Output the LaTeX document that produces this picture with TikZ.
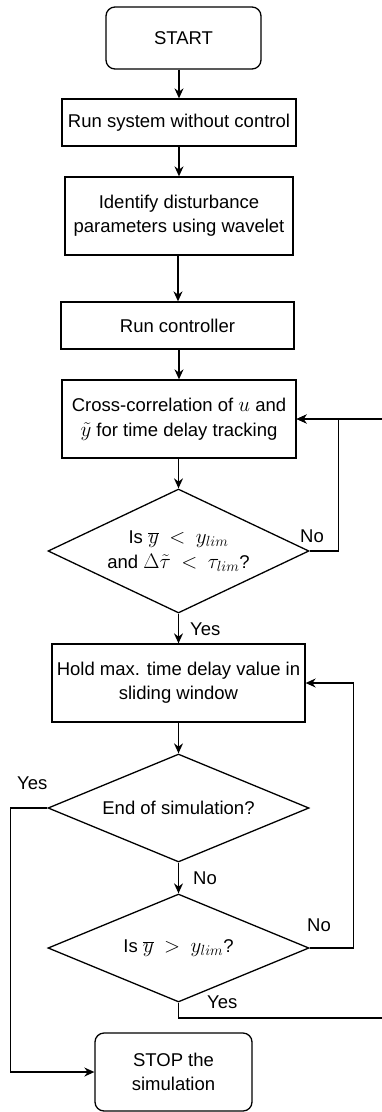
\RequirePackage{fix-cm}
\documentclass[tikz,border=0pt]{standalone}
\usepackage{fontspec}
\setmainfont{Liberation Sans}
\usetikzlibrary{arrows.meta,shapes.geometric}
\newcommand\mth[1]{{\fontsize{21}{24}\selectfont\thickmuskip=9mu\relax$#1$}}
\tikzset{
  x=1pt, y=-1pt,
  every node/.style={font=\fontsize{18.5}{24}\selectfont},
  box/.style={draw, line width=1.3pt, rectangle, align=center, inner sep=0pt},
  term/.style={box, rounded corners=9pt},
  dec/.style={draw, line width=1.3pt, diamond, aspect=2.1, align=center, inner sep=0pt},
  arr/.style={line width=1.3pt, -{Stealth[length=10pt,width=9pt]}},
  lbl/.style={inner sep=0pt}
}
\begin{document}
\begin{tikzpicture}
\useasboundingbox (0,0) rectangle (382,1112);
\clip (0,0) rectangle (382,1112);
\node[term, minimum width=155pt, minimum height=62pt] (start) at (183.5,38) {START};
\node[box, minimum width=234pt, minimum height=47pt] (run) at (179,122.5) {Run system without control};
\node[box, minimum width=228pt, minimum height=78pt] (ident) at (179,216) {Identify disturbance\\parameters using wavelet};
\node[box, minimum width=233pt, minimum height=47pt] (ctrl) at (177.5,325.5) {Run controller};
\node[box, minimum width=234pt, minimum height=78pt] (cross) at (179,419) {Cross-correlation of \mth{u} and\\[1pt]\mth{\tilde{y}} for time delay tracking};
\node[dec, minimum width=261pt, minimum height=124pt] (d1) at (178.5,551) {Is \mth{\overline{y} < y_{lim}}\\[1pt]and \mth{\Delta\tilde{\tau} < \tau_{lim}}?};
\node[box, minimum width=253pt, minimum height=78pt] (hold) at (178.5,683) {Hold max. time delay value in\\sliding window};
\node[dec, minimum width=261pt, minimum height=108pt] (d2) at (178.5,808) {End of simulation?};
\node[dec, minimum width=261pt, minimum height=108pt] (d3) at (178.5,948) {Is \mth{\overline{y} > y_{lim}}?};
\node[term, minimum width=157pt, minimum height=78pt] (stop) at (173.5,1072) {STOP the\\simulation};

\coordinate (ax) at (179,0);
\coordinate (bx) at (178,0);
\draw[arr] (start.south -| ax) -- (ax |- run.north);
\draw[arr] (run.south -| ax) -- (ax |- ident.north);
\draw[arr] (ident.south -| bx) -- (bx |- ctrl.north);
\draw[arr] (ctrl.south -| ax) -- (ax |- cross.north);
\draw[arr] (cross.south -| d1.north) -- (d1.north);
\draw[arr] (d1.south) -- (d1.south |- hold.north);
\draw[arr] (hold.south -| d2.north) -- (d2.north);
\draw[arr] (d2.south) -- (d3.north);

\draw[arr] (d1.east) -- ++(29,0) |- (cross.east);
\draw[arr] (d3.east) -- ++(44,0) |- (hold.east);
\draw[arr] (d2.west) -- ++(-37,0) |- (stop.west);
\coordinate (yesloop) at (386,1018);
\draw[arr] (d3.south) -- (d3.south |- yesloop) -- (yesloop) |- (cross.east);

\node[lbl, anchor=west] (l1) at (300,536) {No};
\node[lbl, anchor=west] (l2) at (190,629) {Yes};
\node[lbl, anchor=west] (l3) at (17,783) {Yes};
\node[lbl, anchor=west] (l4) at (193,878) {No};
\node[lbl, anchor=west] (l5) at (307,925) {No};
\node[lbl, anchor=west] (l6) at (207,1002) {Yes};
\end{tikzpicture}
\end{document}
